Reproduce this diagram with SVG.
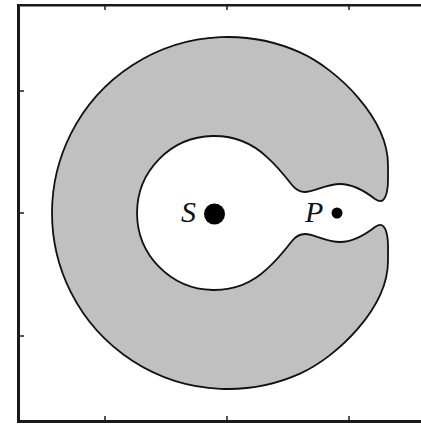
<svg xmlns="http://www.w3.org/2000/svg" width="421" height="424" viewBox="0 0 421 424">
<style>
.axis{stroke:#1a1a1a;fill:none;stroke-linecap:butt}
.tick{stroke:#1a1a1a;stroke-width:1.5}
.region{fill:#c0c0c0;stroke:#111;stroke-width:1.8;fill-rule:evenodd;stroke-linejoin:round}
.lbl{font-family:"Liberation Serif","Times New Roman",serif;font-style:italic;font-size:30px;fill:#111}
.dot{fill:#000}
</style>
<rect width="421" height="424" fill="#fff"/>
<g id="frame">
<line class="axis" x1="18.5" y1="4" x2="18.5" y2="423" stroke-width="3"/>
<line class="axis" x1="17" y1="5.3" x2="421" y2="5.3" stroke-width="2.4"/>
<line class="axis" x1="17" y1="421.5" x2="421" y2="421.5" stroke-width="3"/>
<line class="tick" x1="105" y1="6" x2="105" y2="10"/>
<line class="tick" x1="227" y1="6" x2="227" y2="10"/>
<line class="tick" x1="349" y1="6" x2="349" y2="10"/>
<line class="tick" x1="105" y1="420" x2="105" y2="416"/>
<line class="tick" x1="227" y1="420" x2="227" y2="416"/>
<line class="tick" x1="349" y1="420" x2="349" y2="416"/>
<line class="tick" x1="20" y1="91" x2="24" y2="91"/>
<line class="tick" x1="20" y1="213" x2="24" y2="213"/>
<line class="tick" x1="20" y1="336" x2="24" y2="336"/>
</g>
<g id="region">
<path class="region" d="M 300,52.4 C 337,69 388,118 388,165 C 388,178 389,192 384,199 C 382,202 378,201 375,199 C 366,192 354,184 340,184 C 326,184 314,192 305,192 C 300,192 296,190 292,185 C 285,176 277,166 267,157.1 A 77,77 0 1 0 267,268.9 C 277,260 285,250 292,241 C 296,236 300,234 305,234 C 314,234 326,242 340,242 C 354,242 366,234 375,227 C 378,225 382,224 384,227 C 389,234 388,248 388,261 C 388,308 337,357 300,373.6 A 176,176 0 1 1 300,52.4 Z"/>
</g>
<g id="S">
<circle class="dot" cx="214.5" cy="214" r="10.5"/>
<text class="lbl" x="181" y="222">S</text>
</g>
<g id="P">
<circle class="dot" cx="337" cy="213" r="5.5"/>
<text class="lbl" x="305" y="222">P</text>
</g>
</svg>
